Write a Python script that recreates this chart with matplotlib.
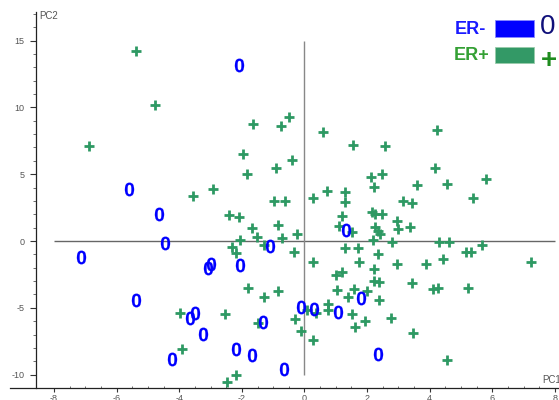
import numpy as np
import matplotlib
matplotlib.use('Agg')
import matplotlib.pyplot as plt
from matplotlib.patches import Rectangle

plt.rcParams['font.family'] = ['Liberation Sans', 'DejaVu Sans']
plt.rcParams['mathtext.fontset'] = 'custom'
plt.rcParams['mathtext.rm'] = 'Liberation Sans'
plt.rcParams['mathtext.bf'] = 'Liberation Sans:bold'

###########################################################
# data
###########################################################

# ER- samples, drawn as "0"
er_neg_x = [-2.09, -5.60, -4.64, -4.46, -7.14, -1.10, -3.00, -3.07, -2.06, -5.39,
            -3.50, -3.66, -1.32, -3.23, -4.24, -2.19, -1.67, -0.65, 1.33, 1.81,
            -0.11, 0.29, 1.07, 2.36]
er_neg_y = [13.20, 3.87, 2.05, -0.17, -1.20, -0.35, -1.74, -2.00, -1.80, -4.42,
            -5.41, -5.79, -6.04, -6.98, -8.83, -8.06, -8.53, -9.56, 0.82, -4.24,
            -4.92, -5.09, -5.31, -8.48]

# ER+ samples, drawn as "+"
er_pos_x = [-5.37, -4.79, -6.88, -1.64, -0.50, -0.74, -1.97, -0.40, -1.85, -0.91,
            -2.93, -3.55, -0.98, -0.63,
            0.60, 4.23, 1.55, 2.57, 4.16, 2.11, 2.47, 5.81, 2.22, 3.58,
            4.55, 0.26, 0.71, 1.28, 1.30, 3.16, 3.42, 5.37,
            -2.40, -2.09, -1.68, -0.86, -1.53, -2.06, -0.71, -0.25, -2.32, -2.19,
            -1.30, -0.35, -1.81, -1.30, -0.84, -3.97, -2.55, -1.48, -3.90, -2.48,
            -2.18, -0.29,
            1.21, 1.10, 1.51, 2.16, 2.26, 2.47, 2.97, 2.25, 3.00, 3.36,
            2.36, 2.41, 2.19, 2.80, 4.31, 4.63, 5.67, 1.30, 1.72, 2.35,
            5.15, 5.32, 0.26, 1.74, 2.95, 3.89, 4.43, 7.23, 1.00, 1.21,
            2.22, 2.22, 2.37, 3.43, 4.12, 4.26, 5.21, 1.04, 1.58, 2.00,
            1.40, 2.37, 0.07, 0.38, 0.74, 0.74, 1.51, 1.92, 2.75, 1.61,
            -0.10, 3.46, 0.27, 4.54]
er_pos_y = [14.22, 10.20, 7.13, 8.76, 9.26, 8.58, 6.51, 6.09, 5.01, 5.46,
            3.89, 3.37, 2.99, 2.99,
            8.18, 8.31, 7.16, 7.09, 5.49, 4.81, 5.01, 4.64, 4.02, 4.17,
            4.29, 3.22, 3.74, 3.67, 2.90, 2.97, 2.82, 3.24,
            1.92, 1.80, 0.95, 1.20, 0.32, 0.07, 0.25, 0.52, -0.43, -0.87,
            -0.30, -0.82, -3.54, -4.22, -3.72, -5.41, -5.44, -6.16, -8.08, -10.55,
            -10.05, -5.84,
            1.90, 1.15, 0.67, 2.19, 2.02, 2.02, 1.52, 1.03, 0.90, 1.03,
            0.77, 0.55, 0.07, -0.05, -0.10, -0.05, -0.30, -0.52, -0.52, -0.95,
            -0.80, -0.80, -1.55, -1.60, -1.75, -1.72, -1.37, -1.55, -2.54, -2.30,
            -2.10, -2.97, -3.07, -3.12, -3.59, -3.50, -3.52, -3.69, -3.59, -3.72,
            -4.17, -4.44, -5.16, -5.36, -4.74, -5.16, -5.46, -5.96, -5.74, -6.46,
            -6.71, -6.91, -7.41, -8.93]

xticks = [-8, -6, -4, -2, 0, 2, 4, 6, 8]
yticks = [-10, -5, 0, 5, 10, 15]
cross_x = [-8, 8]     # extent of horizontal zero line
cross_y = [-10, 15]   # extent of vertical zero line

c_neg = '#0000ff'
c_pos = '#2e9963'
c_tick = '#555555'

###########################################################

fig = plt.figure(figsize=(5.59, 4.0), dpi=100)
ax = fig.add_axes([0, 0, 1, 1])
ax.set_xlim(-9.728, 8.131)
ax.set_ylim(-11.90, 18.04)

# zero cross
ax.hlines(0, cross_x[0], cross_x[1], color='#666666', lw=1.0, zorder=1)
ax.vlines(0, cross_y[0], cross_y[1], color='#888888', lw=1.0, zorder=1)

ax.plot(er_pos_x, er_pos_y, ls='none', marker='+', ms=7.5, mew=2.0,
        color=c_pos, zorder=2)
ax.plot(er_neg_x, er_neg_y, ls='none', marker=r'$\mathbf{0}$', ms=9.8,
        mew=0.1, color=c_neg, zorder=3)

# axes lines
for s in ['top', 'right']:
    ax.spines[s].set_visible(False)
ax.spines['left'].set_position(('data', -8.58))
ax.spines['left'].set_bounds(-11.0, 17.14)
ax.spines['bottom'].set_position(('data', -11.0))
ax.spines['bottom'].set_bounds(-9.41, 8.131)
for s in ['left', 'bottom']:
    ax.spines[s].set_color('#222222')
    ax.spines[s].set_linewidth(0.9)

ax.set_xticks(xticks)
ax.set_yticks(yticks)
ax.set_xticks(np.arange(-8, 8.01, 0.5), minor=True)
ax.set_yticks(np.arange(-10, 17.01, 1), minor=True)
ax.set_xticklabels([str(t) for t in xticks])
ax.set_yticklabels([str(t) for t in yticks])
ax.tick_params(axis='x', which='major', direction='out', length=3, width=0.8,
               pad=1, labelsize=6.5, labelcolor=c_tick, color='#333333')
ax.tick_params(axis='x', which='minor', direction='in', length=1.5, width=0.6,
               color='#555555')
ax.tick_params(axis='y', which='major', direction='out', length=4.3, width=0.8,
               pad=4, labelsize=6.5, labelcolor=c_tick, color='#333333')
ax.tick_params(axis='y', which='minor', direction='out', length=2.2, width=0.6,
               color='#555555')

fig.text(39/559, 1-16/400, 'PC2', fontsize=7, color=c_tick, va='center', ha='left')
fig.text(542/559, 1-380/400, 'PC1', fontsize=7, color=c_tick, va='center', ha='left')

# legend
fig.text(455/559, 1-29/400, 'ER-', fontsize=13, fontweight='bold', color='#1a1aff',
         va='center', ha='left')
fig.text(454/559, 1-56/400, 'ER+', fontsize=13, fontweight='bold', color='#34a034',
         va='center', ha='left')
fig.patches.append(Rectangle((495/559, 1-37/400), 39/559, 17/400,
                             transform=fig.transFigure, fc='#0000ff', ec='#8888ff', lw=0.6))
fig.patches.append(Rectangle((495/559, 1-63/400), 39/559, 16/400,
                             transform=fig.transFigure, fc='#339966', ec='#99ccaa', lw=0.6))
fig.text(548/559, 1-27/400, '0', fontsize=20, color='#10107a', va='center', ha='center')
fig.text(549/559, 1-61/400, '+', fontsize=20, fontweight='bold', color='#1f8c1f',
         va='center', ha='center')

plt.savefig('out.png', dpi=100)
